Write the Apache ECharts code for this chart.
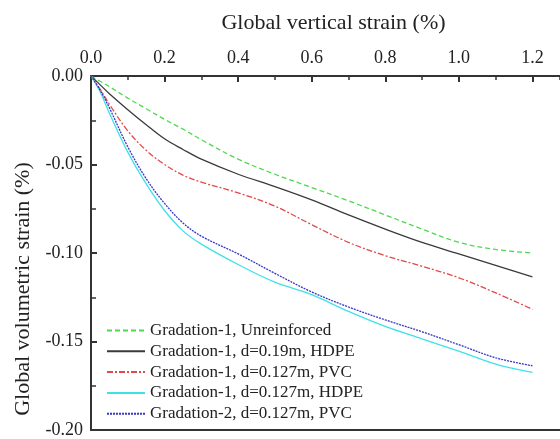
<!DOCTYPE html>
<html>
<head>
<meta charset="utf-8">
<script src="https://cdn.jsdelivr.net/npm/echarts@6/dist/echarts.min.js"></script>
<style>
html,body{margin:0;padding:0;background:#fff;}
#chart{width:560px;height:439px;}
</style>
</head>
<body>
<div id="chart"></div>
<script>
// Data (global vertical strain %, global volumetric strain %)
var strainX = [0, 0.025, 0.05, 0.1, 0.15, 0.2, 0.25, 0.3, 0.4, 0.5, 0.6, 0.7, 0.8, 0.9, 1.0, 1.1, 1.2];
var seriesNames = [
  'Gradation-1, Unreinforced',
  'Gradation-1, d=0.19m, HDPE',
  'Gradation-1, d=0.127m, PVC',
  'Gradation-1, d=0.127m, HDPE',
  'Gradation-2, d=0.127m, PVC'
];
var g1Unreinforced = [0, -0.003, -0.006, -0.0125, -0.0185, -0.0245, -0.030, -0.036, -0.047, -0.0555, -0.063, -0.0705, -0.0785, -0.0865, -0.094, -0.098, -0.100];
var g1HdpeD019 = [0, -0.005, -0.010, -0.019, -0.0275, -0.0355, -0.0415, -0.047, -0.0555, -0.0625, -0.070, -0.0785, -0.0865, -0.094, -0.1005, -0.107, -0.1135];
var g1PvcD0127 = [0, -0.0075, -0.016, -0.031, -0.042, -0.050, -0.056, -0.060, -0.066, -0.0735, -0.084, -0.094, -0.1015, -0.1075, -0.114, -0.1225, -0.1318];
var g1HdpeD0127 = [0, -0.009, -0.021, -0.043, -0.061, -0.076, -0.0875, -0.095, -0.1065, -0.1165, -0.1235, -0.133, -0.1415, -0.1485, -0.1555, -0.1628, -0.1675];
var g2PvcD0127 = [0, -0.008, -0.018, -0.040, -0.058, -0.072, -0.083, -0.0905, -0.1005, -0.1115, -0.122, -0.1305, -0.1378, -0.1445, -0.1518, -0.1592, -0.1637];
var xTicks = [0, 0.2, 0.4, 0.6, 0.8, 1.0, 1.2];
var yTicks = [0, -0.05, -0.10, -0.15, -0.20];

var seriesValues = [g1Unreinforced, g1HdpeD019, g1PvcD0127, g1HdpeD0127, g2PvcD0127];
var colors = ['#4fd84f', '#3a3a3a', '#e04a4a', '#40e0ea', '#3636c8'];
var dashes = [[5, 3], 'solid', [6, 2, 2, 2], 'solid', [2, 1]];

function pairs(ys) {
  return strainX.map(function (x, i) { return [x, ys[i]]; });
}

var FONT = '"Liberation Serif","Times New Roman",serif';
var X_MAX = 1.275; // axis continues past 1.2 to the picture edge
var chart = echarts.init(document.getElementById('chart'), null, {renderer: 'canvas'});

var series = seriesValues.map(function (ys, i) {
  return {
    name: seriesNames[i],
    type: 'line',
    xAxisIndex: 0,
    data: pairs(ys),
    smooth: 0.35,
    symbol: 'none',
    showSymbol: false,
    lineStyle: {color: colors[i], width: 1.3, type: dashes[i]},
    itemStyle: {color: colors[i]}
  };
});

chart.setOption({
  animation: false,
  backgroundColor: '#ffffff',
  textStyle: {fontFamily: FONT},
  grid: {left: 91, top: 76, right: 0, height: 357, containLabel: false},
  legend: {
    orient: 'vertical',
    left: 106,
    top: 322,
    height: 115,
    padding: 0,
    itemWidth: 38,
    itemHeight: 17,
    itemGap: 3.8,
    itemStyle: {opacity: 0},
    textStyle: {fontFamily: FONT, fontSize: 17, color: '#222'},
    data: seriesNames
  },
  xAxis: [{
    type: 'value',
    position: 'top',
    min: 0,
    max: X_MAX,
    interval: 0.2,
    name: 'Global vertical strain (%)',
    nameLocation: 'middle',
    nameGap: 42,
    nameTextStyle: {fontFamily: FONT, fontSize: 22, color: '#222', padding: [0, 0, 0, 16]},
    axisLine: {show: true, onZero: false, lineStyle: {color: '#333', width: 2}},
    axisTick: {show: true, inside: true, length: 6, lineStyle: {color: '#333', width: 2}},
    minorTick: {show: false},
    axisLabel: {
      fontFamily: FONT, fontSize: 18, color: '#222', margin: 9, showMaxLabel: false,
      formatter: function (v) { return xTicks.indexOf(Math.round(v * 10) / 10) >= 0 ? v.toFixed(1) : ''; }
    },
    splitLine: {show: false}
  }, {
    // minor ticks on the top axis
    type: 'value',
    position: 'top',
    min: 0,
    max: X_MAX,
    interval: 0.1,
    axisLine: {show: false},
    axisTick: {show: true, inside: true, length: 4, lineStyle: {color: '#333', width: 1.5}},
    axisLabel: {show: false},
    splitLine: {show: false}
  }, {
    type: 'value',
    position: 'bottom',
    min: 0,
    max: X_MAX,
    axisLine: {show: true, onZero: false, lineStyle: {color: '#333', width: 2}},
    axisTick: {show: false},
    axisLabel: {show: false},
    splitLine: {show: false}
  }],
  yAxis: {
    type: 'value',
    min: -0.2,
    max: 0,
    interval: 0.05,
    name: 'Global volumetric strain (%)',
    nameLocation: 'middle',
    nameGap: 57,
    nameTextStyle: {fontFamily: FONT, fontSize: 22, color: '#222', padding: [0, 72, 0, 0]},
    axisLine: {show: true, onZero: false, lineStyle: {color: '#333', width: 2}},
    axisTick: {show: true, inside: true, length: 6, lineStyle: {color: '#333', width: 2}},
    minorTick: {show: true, splitNumber: 2, length: 5, lineStyle: {color: '#333', width: 1.5}},
    axisLabel: {
      fontFamily: FONT, fontSize: 18, color: '#222', margin: 8,
      formatter: function (v) { return v.toFixed(2); }
    },
    splitLine: {show: false}
  },
  series: series
});
</script>
</body>
</html>
